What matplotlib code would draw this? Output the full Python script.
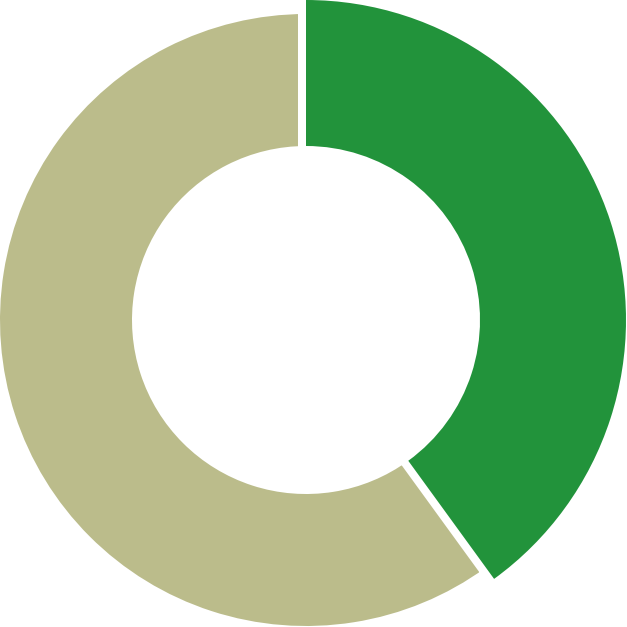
import matplotlib
matplotlib.use("Agg")
import matplotlib.pyplot as plt
from matplotlib.patches import Wedge

labels = ["A", "B"]
values = [40, 60]
colors = ["#22933b", "#bbbc8b"]

fig = plt.figure(figsize=(6.27, 6.27), dpi=100)
ax = fig.add_axes([0, 0, 1, 1])
ax.set_xlim(0, 627)
ax.set_ylim(0, 627)
ax.set_aspect("equal")
ax.axis("off")

cx, cy = 306, 307
inner = 174
gap = 8  # white border on the grey slice, px

total = sum(values)
start = 90
angles = []
for v in values:
    sweep = 360 * v / total
    angles.append((start - sweep, start))
    start -= sweep

# second slice first, with a white edge that eats into it
t1, t2 = angles[1]
ax.add_patch(Wedge((cx, cy), 306 + gap, t1, t2, width=306 - inner + 2 * gap,
                   facecolor=colors[1], edgecolor="white",
                   linewidth=2 * gap * 72 / 100))

# highlighted first slice, slightly bigger
t1, t2 = angles[0]
ax.add_patch(Wedge((cx, cy), 320, t1, t2, width=320 - inner,
                   facecolor=colors[0], edgecolor="none"))

fig.savefig("out.png", dpi=100)
